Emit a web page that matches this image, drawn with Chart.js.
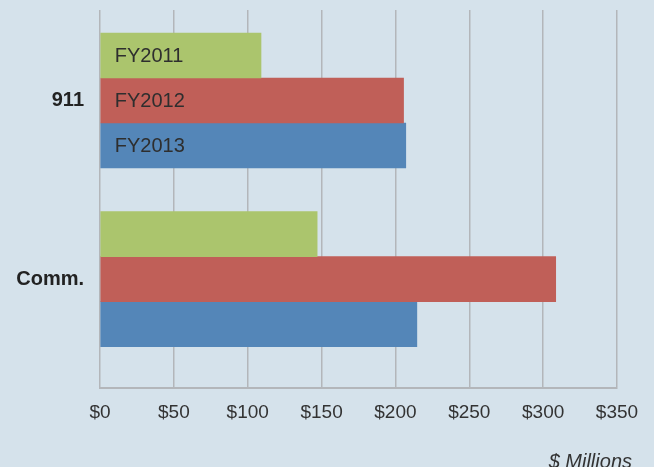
<!DOCTYPE html>
<html>
<head>
<meta charset="utf-8">
<script src="https://cdn.jsdelivr.net/npm/chart.js@4/dist/chart.umd.min.js"></script>
<style>
    html, body { margin: 0; padding: 0; background: #d5e2eb; }
    #wrap { width: 654px; height: 467px; }
</style>
</head>
<body>
<div id="wrap"><canvas id="fundingChart"></canvas></div>
<script>
// data ($ millions)
var categories = ['911', 'Comm.'];
var seriesNames = ['FY2011', 'FY2012', 'FY2013'];
var fy2011 = [109, 147];
var fy2012 = [205.5, 308.5];
var fy2013 = [207, 214.5];
var xTicks = [0, 50, 100, 150, 200, 250, 300, 350];
var colors = ['#abc56d', '#c05f58', '#5486b8'];

// writes the series name inside the first group of bars
var insideLabels = {
    id: 'insideLabels',
    afterDatasetsDraw: function (chart) {
        var ctx = chart.ctx;
        ctx.save();
        ctx.font = '20px "Liberation Sans", Arial, sans-serif';
        ctx.fillStyle = '#2e2e2e';
        ctx.textBaseline = 'middle';
        chart.data.datasets.forEach(function (ds, i) {
            var bar = chart.getDatasetMeta(i).data[0];
            ctx.fillText(ds.label, bar.base + 14, bar.y + 1);
        });
        ctx.restore();
    }
};

new Chart(document.getElementById('fundingChart'), {
    type: 'bar',
    data: {
        labels: categories,
        datasets: [
            { label: seriesNames[0], data: fy2011, backgroundColor: colors[0] },
            { label: seriesNames[1], data: fy2012, backgroundColor: colors[1] },
            { label: seriesNames[2], data: fy2013, backgroundColor: colors[2] }
        ]
    },
    options: {
        indexAxis: 'y',
        responsive: true,
        maintainAspectRatio: false,
        animation: false,
        barThickness: 45,
        layout: { padding: { top: 10, right: 22, bottom: 0, left: 0 } },
        scales: {
            x: {
                min: 0,
                max: 350,
                afterBuildTicks: function (s) {
                    s.ticks = xTicks.map(function (v) { return { value: v }; });
                },
                afterFit: function (s) { s.paddingRight = 37; s.paddingLeft = 0; },
                grid: { color: '#b3b6ba', lineWidth: 1.5, drawTicks: false },
                border: { display: true, color: '#b3b6ba', width: 2 },
                ticks: {
                    padding: 13,
                    color: '#333333',
                    font: { family: '"Liberation Sans", Arial, sans-serif', size: 19 },
                    callback: function (v) { return '$' + v; }
                }
            },
            y: {
                afterBuildTicks: function (s) {
                    // categories sit a bit higher than an even split
                    s._startValue = -0.507;
                    s._valueRange = 2.118;
                },
                afterFit: function (s) { s.width = 100; s.paddingTop = 0; s.paddingBottom = 0; },
                grid: { display: false, drawTicks: false },
                border: { display: false },
                ticks: {
                    padding: 16,
                    color: '#222222',
                    font: { family: '"Liberation Sans", Arial, sans-serif', size: 20, weight: 'bold' }
                }
            }
        },
        plugins: {
            legend: { display: false },
            tooltip: { enabled: false },
            title: {
                display: true,
                text: '$ Millions',
                position: 'bottom',
                align: 'end',
                color: '#333333',
                padding: { top: 21, bottom: 0 },
                font: { family: '"Liberation Sans", Arial, sans-serif', size: 20, style: 'italic', weight: 'normal', lineHeight: 0.45 }
            }
        }
    },
    plugins: [insideLabels]
});
</script>
</body>
</html>
